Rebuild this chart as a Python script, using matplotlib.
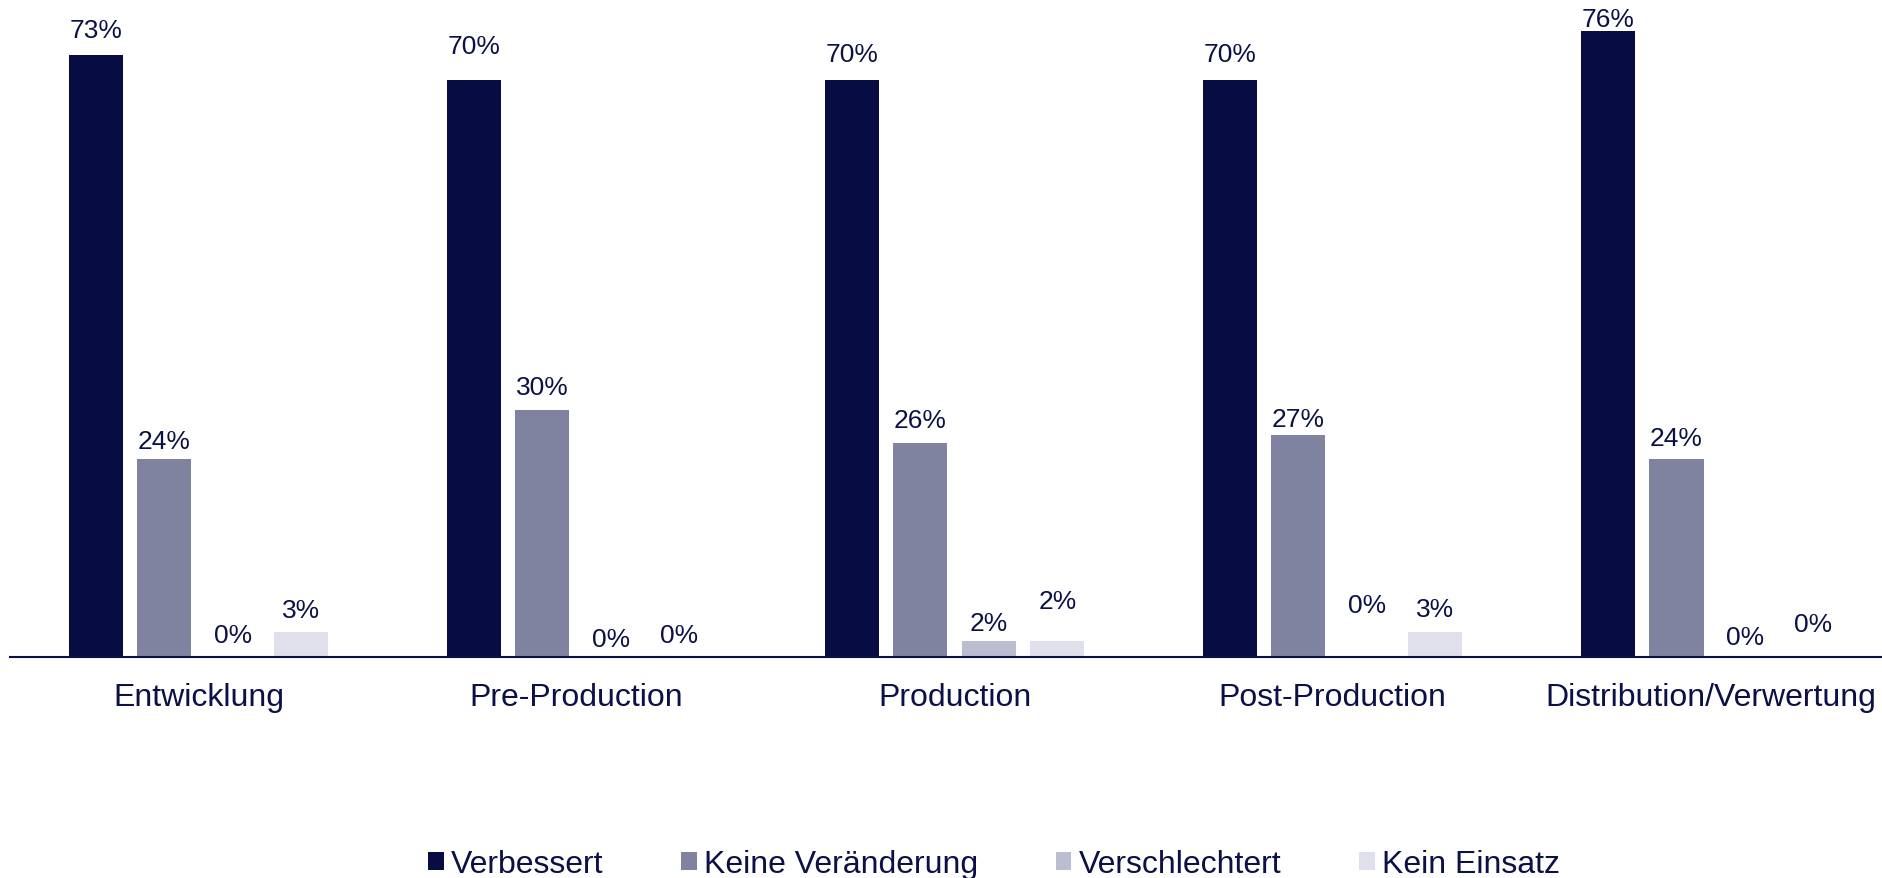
import matplotlib
matplotlib.use("Agg")
import matplotlib.pyplot as plt
import numpy as np

plt.rcParams["font.family"] = ["Liberation Sans", "DejaVu Sans"]

# Phases of the production pipeline
categories = ["Entwicklung", "Pre-Production", "Production", "Post-Production",
              "Distribution/Verwertung"]

# Share of answers per phase (percent)
verbessert = [73, 70, 70, 70, 76]
keine_veraenderung = [24, 30, 26, 27, 24]
verschlechtert = [0, 0, 2, 0, 0]
kein_einsatz = [3, 0, 2, 3, 0]

series_names = ["Verbessert", "Keine Veränderung", "Verschlechtert", "Kein Einsatz"]
series_values = [verbessert, keine_veraenderung, verschlechtert, kein_einsatz]
series_colors = ["#070D42", "#7F839F", "#BBBED1", "#DFE0EC"]

# Vertical nudge (points above the bar top) for each value label
label_nudge = [
    [13, 19.5, 14, 14, 3.5],
    [8, 11.5, 11.5, 6, 10],
    [11, 8, 7.5, 32.5, 9],
    [11, 11, 23.5, 12, 19],
]

text_color = "#0B1046"

W, H = 1882, 879
fig = plt.figure(figsize=(W / 100, H / 100), dpi=100)
ax = fig.add_axes([10 / W, 221 / H, 1872 / W, 658 / H])

x = np.arange(len(categories))
pitch = 0.1812
width = 0.1429

for j, (name, vals, col) in enumerate(zip(series_names, series_values, series_colors)):
    xs = x + (j - 1.5) * pitch
    ax.bar(xs, vals, width=width, color=col, label=name, zorder=2)
    for xi, v, dy in zip(xs, vals, label_nudge[j]):
        ax.annotate(f"{v}%", xy=(xi, v), xytext=(0, dy), textcoords="offset points",
                    ha="center", va="baseline", fontsize=19, color=text_color,
                    annotation_clip=False)

ax.set_xlim(-0.499, 4.453)
ax.set_ylim(0, 79.85)
ax.set_xticks(x)
ax.set_xticklabels(categories, fontsize=23, color=text_color)
ax.tick_params(axis="x", length=0, pad=18)
ax.set_yticks([])
for side in ["top", "right", "left"]:
    ax.spines[side].set_visible(False)
ax.spines["bottom"].set_color("#0B1046")
ax.spines["bottom"].set_linewidth(1.5)
ax.patch.set_alpha(0)

leg = ax.legend(loc="center", bbox_to_anchor=(994 / W, 1 - 865 / H),
                bbox_transform=fig.transFigure, ncol=4, frameon=False,
                fontsize=23, handlelength=0.48, handleheight=0.48,
                handletextpad=0.22, columnspacing=2.45, borderpad=0)
for t in leg.get_texts():
    t.set_color(text_color)

fig.savefig("out.png", dpi=100)
